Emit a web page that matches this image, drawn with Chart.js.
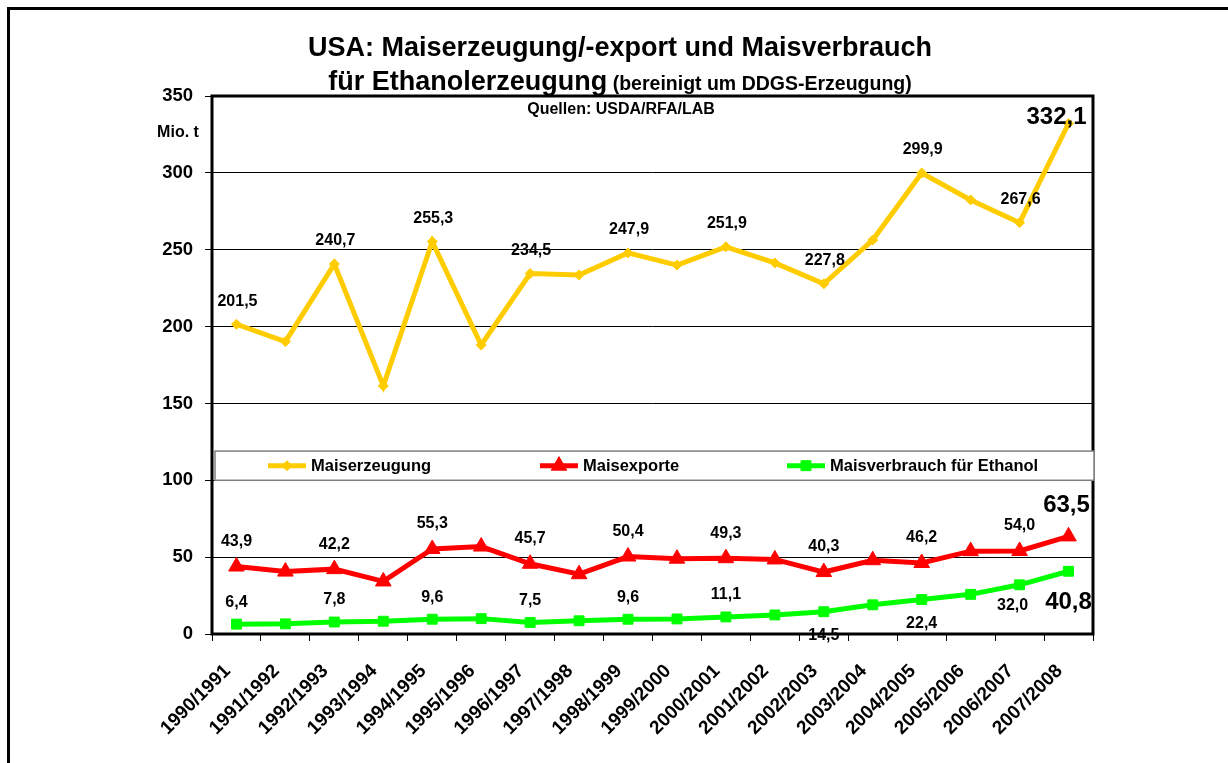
<!DOCTYPE html>
<html>
<head>
<meta charset="utf-8">
<script src="https://cdn.jsdelivr.net/npm/chart.js@4"></script>
<style>
  body { margin: 0; background: #fff; }
  canvas { display: block; }
</style>
</head>
<body>
<canvas id="mais" width="1228" height="763"></canvas>
<script>
const categories = ['1990/1991', '1991/1992', '1992/1993', '1993/1994', '1994/1995', '1995/1996',
  '1996/1997', '1997/1998', '1998/1999', '1999/2000', '2000/2001', '2001/2002', '2002/2003',
  '2003/2004', '2004/2005', '2005/2006', '2006/2007', '2007/2008'];
const maiserzeugung = [201.5, 190.2, 240.7, 161.4, 255.3, 188.0, 234.5, 233.6, 247.9, 240.0,
  251.9, 241.4, 227.8, 256.3, 299.9, 282.4, 267.6, 332.1];
const maisexporte = [43.9, 40.6, 42.2, 34.2, 55.3, 56.9, 45.7, 38.9, 50.4, 49.0,
  49.3, 48.5, 40.3, 48.0, 46.2, 53.9, 54.0, 63.5];
const ethanol = [6.4, 6.6, 7.8, 8.3, 9.6, 10.0, 7.5, 8.6, 9.6, 9.8,
  11.1, 12.4, 14.5, 19.0, 22.4, 25.8, 32.0, 40.8];
const yTicks = [0, 50, 100, 150, 200, 250, 300, 350];

const FONT = 'Liberation Sans, Arial, sans-serif';
const fmt = v => v.toFixed(1).replace('.', ',');

// where each value label sits relative to its point
function labelSpot(ds, i, last) {
  if (i === last) {
    if (ds === 0) return { dx: -12, dy: -6 };
    if (ds === 1) return { dx: -2, dy: -31 };
    return { dx: 0, dy: 31 };
  }
  if (i % 2) return null;
  if (ds === 0) return { dx: 1, dy: -23 };
  if (ds === 1) return { dx: 0, dy: -25 };
  if (i <= 10) return { dx: 0, dy: -22 };
  if (i === 16) return { dx: -7, dy: 21 };
  return { dx: 0, dy: 24 };
}

const valueLabels = {
  id: 'valueLabels',
  afterDatasetsDraw(chart) {
    const ctx = chart.ctx;
    ctx.save();
    ctx.fillStyle = '#000';
    ctx.textAlign = 'center';
    ctx.textBaseline = 'middle';
    chart.data.datasets.forEach((d, ds) => {
      const pts = chart.getDatasetMeta(ds).data;
      const last = d.data.length - 1;
      d.data.forEach((v, i) => {
        const s = labelSpot(ds, i, last);
        if (!s) return;
        ctx.font = (i === last ? 'bold 24px ' : 'bold 16px ') + FONT;
        ctx.fillText(fmt(v), pts[i].x + s.dx, pts[i].y + s.dy);
      });
    });
    ctx.restore();
  }
};

const decorations = {
  id: 'decorations',
  afterDraw(chart) {
    const ctx = chart.ctx;
    const a = chart.chartArea;
    const y = chart.scales.y;
    ctx.save();

    // outer frame
    ctx.strokeStyle = '#000';
    ctx.lineWidth = 3;
    ctx.strokeRect(8.5, 8.5, 1400, 900);

    // plot frame
    ctx.strokeRect(a.left, a.top, a.right - a.left, a.bottom - a.top);

    // title
    ctx.fillStyle = '#000';
    ctx.textBaseline = 'alphabetic';
    ctx.textAlign = 'center';
    ctx.font = 'bold 27px ' + FONT;
    ctx.fillText('USA: Maiserzeugung/-export und Maisverbrauch', 620, 56);
    const p1 = 'für Ethanolerzeugung', p2 = ' (bereinigt um DDGS-Erzeugung)';
    ctx.font = 'bold 27px ' + FONT;
    const w1 = ctx.measureText(p1).width;
    ctx.font = 'bold 19.5px ' + FONT;
    const w2 = ctx.measureText(p2).width;
    const x0 = 620 - (w1 + w2) / 2;
    ctx.textAlign = 'left';
    ctx.font = 'bold 27px ' + FONT;
    ctx.fillText(p1, x0, 90);
    ctx.font = 'bold 19.5px ' + FONT;
    ctx.fillText(p2, x0 + w1, 90);

    ctx.textAlign = 'center';
    ctx.font = 'bold 16px ' + FONT;
    ctx.fillText('Quellen: USDA/RFA/LAB', 621, 114);
    ctx.fillText('Mio. t', 178, 137);

    // legend box inside the plot
    const top = y.getPixelForValue(119), bot = y.getPixelForValue(100);
    ctx.fillStyle = '#fff';
    ctx.fillRect(a.left + 3, top, a.right - a.left - 2, bot - top);
    ctx.strokeStyle = '#808080';
    ctx.lineWidth = 1.5;
    ctx.strokeRect(a.left + 3, top, a.right - a.left - 2, bot - top);
    const my = (top + bot) / 2;
    const starts = [56, 328, 575];
    chart.data.datasets.forEach((d, i) => {
      const lx = a.left + starts[i];
      ctx.strokeStyle = d.borderColor;
      ctx.fillStyle = d.borderColor;
      ctx.lineWidth = 5;
      ctx.beginPath();
      ctx.moveTo(lx, my);
      ctx.lineTo(lx + 38, my);
      ctx.stroke();
      ctx.lineWidth = 1;
      Chart.helpers.drawPoint(ctx, {
        pointStyle: d.pointStyle, radius: d.pointRadius, borderWidth: 1
      }, lx + 19, my);
      ctx.fillStyle = '#000';
      ctx.textAlign = 'left';
      ctx.textBaseline = 'middle';
      ctx.font = 'bold 16.5px ' + FONT;
      ctx.fillText(d.label, lx + 43, my + 1);
    });
    ctx.restore();
  }
};

new Chart(document.getElementById('mais'), {
  type: 'line',
  data: {
    labels: categories,
    datasets: [
      { label: 'Maiserzeugung', data: maiserzeugung, borderColor: '#FFCC00', backgroundColor: '#FFCC00',
        borderWidth: 5, pointStyle: 'rectRot', pointRadius: 5, pointBorderWidth: 1 },
      { label: 'Maisexporte', data: maisexporte, borderColor: '#FF0000', backgroundColor: '#FF0000',
        borderWidth: 5, pointStyle: 'triangle', pointRadius: 9, pointBorderWidth: 1 },
      { label: 'Maisverbrauch für Ethanol', data: ethanol, borderColor: '#00FF00', backgroundColor: '#00FF00',
        borderWidth: 5, pointStyle: 'rect', pointRadius: 7, pointBorderWidth: 1 }
    ]
  },
  options: {
    responsive: false,
    animation: false,
    layout: { padding: { top: 96, right: 135, left: 0, bottom: 0 } },
    plugins: { legend: { display: false }, title: { display: false }, tooltip: { enabled: false } },
    elements: { line: { tension: 0 } },
    scales: {
      x: {
        offset: true,
        afterFit(s) { s.height = 129; },
        border: { display: false },
        grid: { offset: true, drawOnChartArea: false, color: '#000', tickLength: 7 },
        ticks: { color: '#000', font: { family: FONT, size: 19, weight: 'bold' },
          minRotation: 45, maxRotation: 45, padding: 19, labelOffset: -9, autoSkip: false }
      },
      y: {
        min: 0, max: 350,
        afterFit(s) { s.width = 212; },
        afterBuildTicks(s) { s.ticks = yTicks.map(v => ({ value: v })); },
        border: { display: false },
        grid: { color: '#000', lineWidth: 1, tickLength: 7 },
        ticks: { color: '#000', font: { family: FONT, size: 18.5, weight: 'bold' }, padding: 12 }
      }
    }
  },
  plugins: [valueLabels, decorations]
});
</script>
</body>
</html>
